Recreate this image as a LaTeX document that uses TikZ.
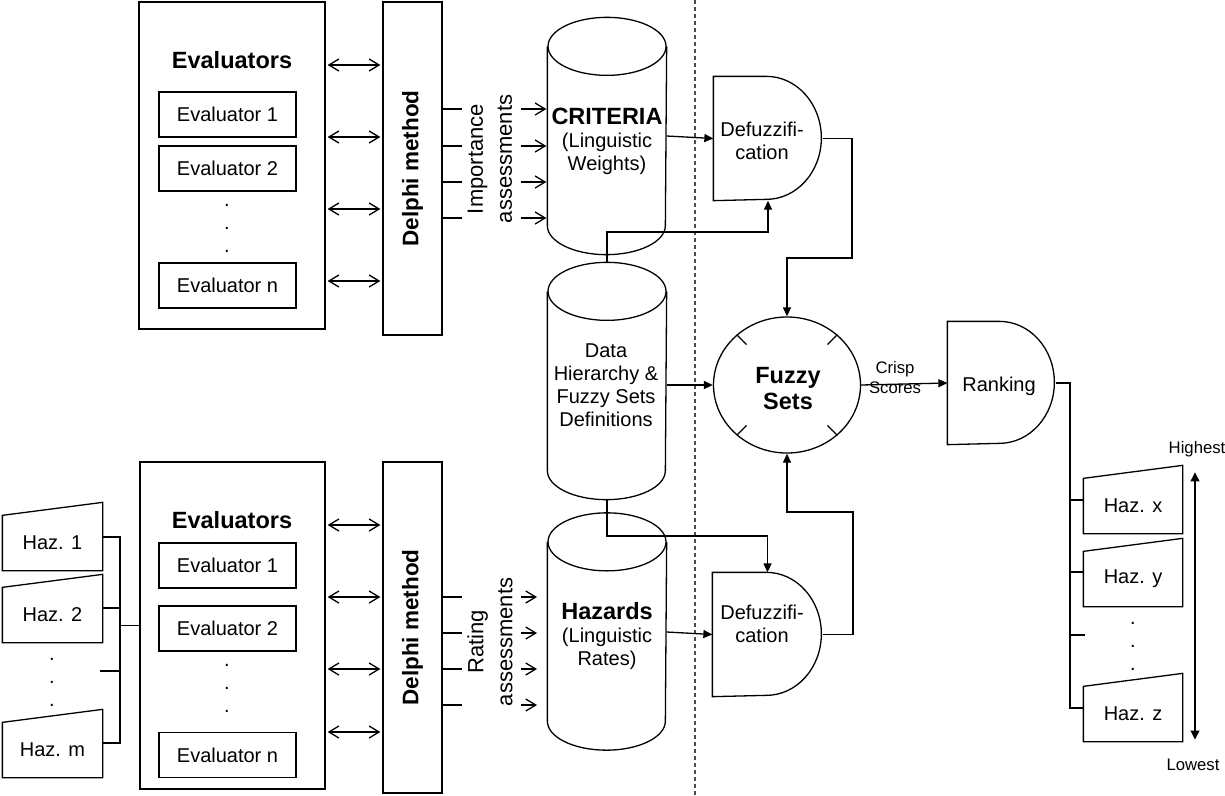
\documentclass[tikz,border=0pt]{standalone}
\usepackage{fontspec}
\setmainfont{Liberation Sans}
\usetikzlibrary{arrows.meta,shapes.geometric,calc}
\newcommand\fnR{\fontsize{20}{23}\selectfont}
\newcommand\fnB{\bfseries\fontsize{23.5}{26}\selectfont}
\newcommand\fnD{\bfseries\fontsize{22.5}{26}\selectfont}
\newcommand\fnI{\fontsize{22}{29}\selectfont}
\newcommand\fnS{\fontsize{16.7}{20}\selectfont}
\newcommand\drawcyl[1]{%
 \draw ([yshift=-29pt]#1.north) ellipse[x radius=59, y radius=29];
 \draw ([yshift=-29pt]#1.north west) -- ([yshift=29pt]#1.south west) arc[start angle=180, end angle=0, x radius=59, y radius=29] -- ([yshift=-29pt]#1.north east);}
\newcommand\drawD[4]{%
 \draw (#1.north west) -- ++(#2,0) arc[start angle=-90, end angle=90, x radius=#3, y radius=#4] -- (#1.south west) -- cycle;}
\newcommand\drawhaz[1]{%
 \draw (#1.south west) -- (#1.north west) -- ([yshift=13pt]#1.north east) -- (#1.south east) -- cycle;}
\begin{document}
\begin{tikzpicture}[x=1pt,y=-1pt,line width=1.3pt,
 box/.style={draw, rectangle, inner sep=0pt},
 ghost/.style={rectangle, inner sep=0pt},
 txt/.style={font=\fnR, align=center, inner sep=0pt},
 dbl/.style={arrows={Straight Barb[length=10pt,width=12pt]-Straight Barb[length=10pt,width=12pt]}, shorten <=2pt, shorten >=2pt},
 oarr/.style={arrows={-Straight Barb[length=10pt,width=12pt]}},
 farr/.style={arrows={-Triangle[length=9pt,width=8pt]}},
 tri2/.style={arrows={Triangle[length=9pt,width=9pt]-Triangle[length=9pt,width=9pt]}},
 ]
\useasboundingbox (0,0) rectangle (1225,795);

% dashed separator
\draw[black!70, line width=1.1pt, dash pattern=on 4pt off 3pt] (695,0) -- (695,795);

% ---------- top evaluators ----------
\node[box, minimum width=186pt, minimum height=327pt] (E1) at (232,165.5) {};
\node[font=\fnB, inner sep=0pt] (E1t) at (232,60) {Evaluators};
\node[box, txt, minimum width=137pt, minimum height=45pt] (e11) at (227.5,114.5) {Evaluator 1};
\node[box, txt, minimum width=137pt, minimum height=45pt] (e12) at (227.5,168.5) {Evaluator 2};
\node[txt] (e1d) at (227,228) {.\\.\\.};
\node[box, txt, minimum width=137pt, minimum height=45pt] (e1n) at (227.5,285.5) {Evaluator n};

\node[box, minimum width=59pt, minimum height=333pt, label={[rotate=90,font=\fnD]center:Delphi method}] (D1) at (412.5,168.5) {};
\foreach \y in {65,137,209,281} \draw[dbl] (E1.east |- 0,\y) -- (D1.west |- 0,\y);

% criteria cylinder
\node[ghost, minimum width=118pt, minimum height=236pt] (crit) at (607,136) {};
\drawcyl{crit}
\node[txt] (critt) at (607,141) {{\fnB CRITERIA}\\(Linguistic\\Weights)};

\foreach \y in {109,146,182,218} {
 \draw (D1.east |- 0,\y) -- ++(19,0);
 \draw[oarr, shorten >=1pt] (521,\y) -- (crit.west |- 0,\y);
}
\node[rotate=90, align=center, font=\fnI, inner sep=0pt] (imp) at (490,159) {Importance\\assessments};

% defuzzification 1
\node[ghost, minimum width=108pt, minimum height=123pt] (df1) at (768,138.5) {};
\drawD{df1}{53}{55}{61.5}
\node[txt] (df1t) at (762,140.5) {Defuzzifi-\\cation};

% data cylinder
\node[ghost, minimum width=118pt, minimum height=236pt] (data) at (607,381) {};
\drawcyl{data}
\node[txt] (datat) at (606,385.5) {Data\\Hierarchy \&\\Fuzzy Sets\\Definitions};

% fuzzy sets
\node[draw, ellipse, minimum width=147pt, minimum height=136pt, inner sep=0pt] (fz) at (787,385) {};
\node[font=\fnB, align=center, inner sep=0pt] (fzt) at (788,389) {Fuzzy\\Sets};
\foreach \a in {45,135,225,315} \draw (fz.\a) -- ($(fz.\a)!14pt!(fz.center)$);

% ranking
\node[ghost, minimum width=107pt, minimum height=122pt] (rank) at (1001.5,383) {};
\drawD{rank}{52}{55}{61}
\node[txt] (rankt) at (999,386) {Ranking};

\draw[farr] (fz.east) -- (rank.west);
\node[font=\fnS, align=center, inner sep=0pt] (crisp) at (895,378) {Crisp\\Scores};

% hazards cylinder
\node[ghost, minimum width=118pt, minimum height=236pt] (hzd) at (607,631.5) {};
\drawcyl{hzd}
\node[txt] (hzdt) at (607,636) {{\fnB Hazards}\\(Linguistic\\Rates)};

% defuzzification 2
\node[ghost, minimum width=109pt, minimum height=123pt] (df2) at (767.5,634.5) {};
\drawD{df2}{54}{55}{61.5}
\node[txt] (df2t) at (762,624) {Defuzzifi-\\cation};

% connectors middle
\draw[farr] (crit.east |- 0,136) -- (df1.west |- 0,138.5);
\draw[farr] (hzd.east |- 0,632) -- (df2.west |- 0,634.5);
\draw[farr] (data.east |- 0,385) -- (fz.west);
\draw[farr] (data.north) -- (607,232) -| (df1.south);
\draw[farr] (data.south) -- (607,536) -| (df2.north);
\draw[farr] (df1.east) -- (852,138.5) -- (852,258) -| (fz.north);
\draw[farr] (df2.east) -- (853,634.5) -- (853,512) -| (fz.south);

% ranked hazards
\node[ghost, txt, minimum width=98pt, minimum height=54pt] (hx) at (1133,506) {Haz. x};
\drawhaz{hx}
\node[ghost, txt, minimum width=98pt, minimum height=54pt] (hy) at (1133,579) {Haz. y};
\drawhaz{hy}
\node[txt] (hdots) at (1133,646) {.\\.\\.};
\node[ghost, txt, minimum width=98pt, minimum height=54pt] (hz) at (1133,714) {Haz. z};
\drawhaz{hz}
\draw (rank.east) -- (1070,383) |- ([yshift=6pt]hz.west);
\draw ([yshift=6pt]hx.west) -- (1070,500);
\draw ([yshift=7pt]hy.west) -- (1070,572);
\draw (1070,635) -- (1085,635);

\node[font=\fnS, inner sep=0pt] (hi) at (1197,449) {Highest};
\node[font=\fnS, inner sep=0pt] (lo) at (1193,765) {Lowest};
\draw[tri2, line width=1.1pt, shorten <=15pt, shorten >=19pt] (hi.south -| 1195,0) -- (lo.north -| 1195,0);

% ---------- bottom evaluators ----------
\node[box, minimum width=185pt, minimum height=327pt] (E2) at (232.5,625.5) {};
\node[font=\fnB, inner sep=0pt] (E2t) at (232,520) {Evaluators};
\node[box, txt, minimum width=137pt, minimum height=45pt] (e21) at (227.5,565.5) {Evaluator 1};
\node[box, txt, minimum width=137pt, minimum height=45pt] (e22) at (227.5,628.5) {Evaluator 2};
\node[txt] (e2d) at (227,688) {.\\.\\.};
\node[box, txt, minimum width=137pt, minimum height=45pt] (e2n) at (227.5,755) {Evaluator n};

\node[box, minimum width=59pt, minimum height=331pt, label={[rotate=90,font=\fnD]center:Delphi method}] (D2) at (412.5,627.5) {};
\foreach \y in {525,597,669,732} \draw[dbl] (E2.east |- 0,\y) -- (D2.west |- 0,\y);
\foreach \y in {597,633,669,705} {
 \draw (D2.east |- 0,\y) -- ++(19,0);
 \draw[oarr] (521,\y) -- (537,\y);
}
\node[rotate=90, align=center, font=\fnI, inner sep=0pt] (rat) at (490,642) {Rating\\assessments};

% input hazards
\node[ghost, txt, minimum width=99pt, minimum height=54pt] (h1) at (52.5,543) {Haz. 1};
\drawhaz{h1}
\node[ghost, txt, minimum width=99pt, minimum height=54pt] (h2) at (52.5,615) {Haz. 2};
\drawhaz{h2}
\node[txt] (hldots) at (52,682) {.\\.\\.};
\node[ghost, txt, minimum width=99pt, minimum height=54pt] (hm) at (52.5,750) {Haz. m};
\drawhaz{hm}
\draw ([yshift=6pt]h1.east) -- (120,537) -- (120,743) -- ([yshift=7pt]hm.east);
\draw ([yshift=7pt]h2.east) -- (120,608);
\draw (100,671) -- (120,671);
\draw (120,625.5) -- (E2.west);
\end{tikzpicture}
\end{document}
